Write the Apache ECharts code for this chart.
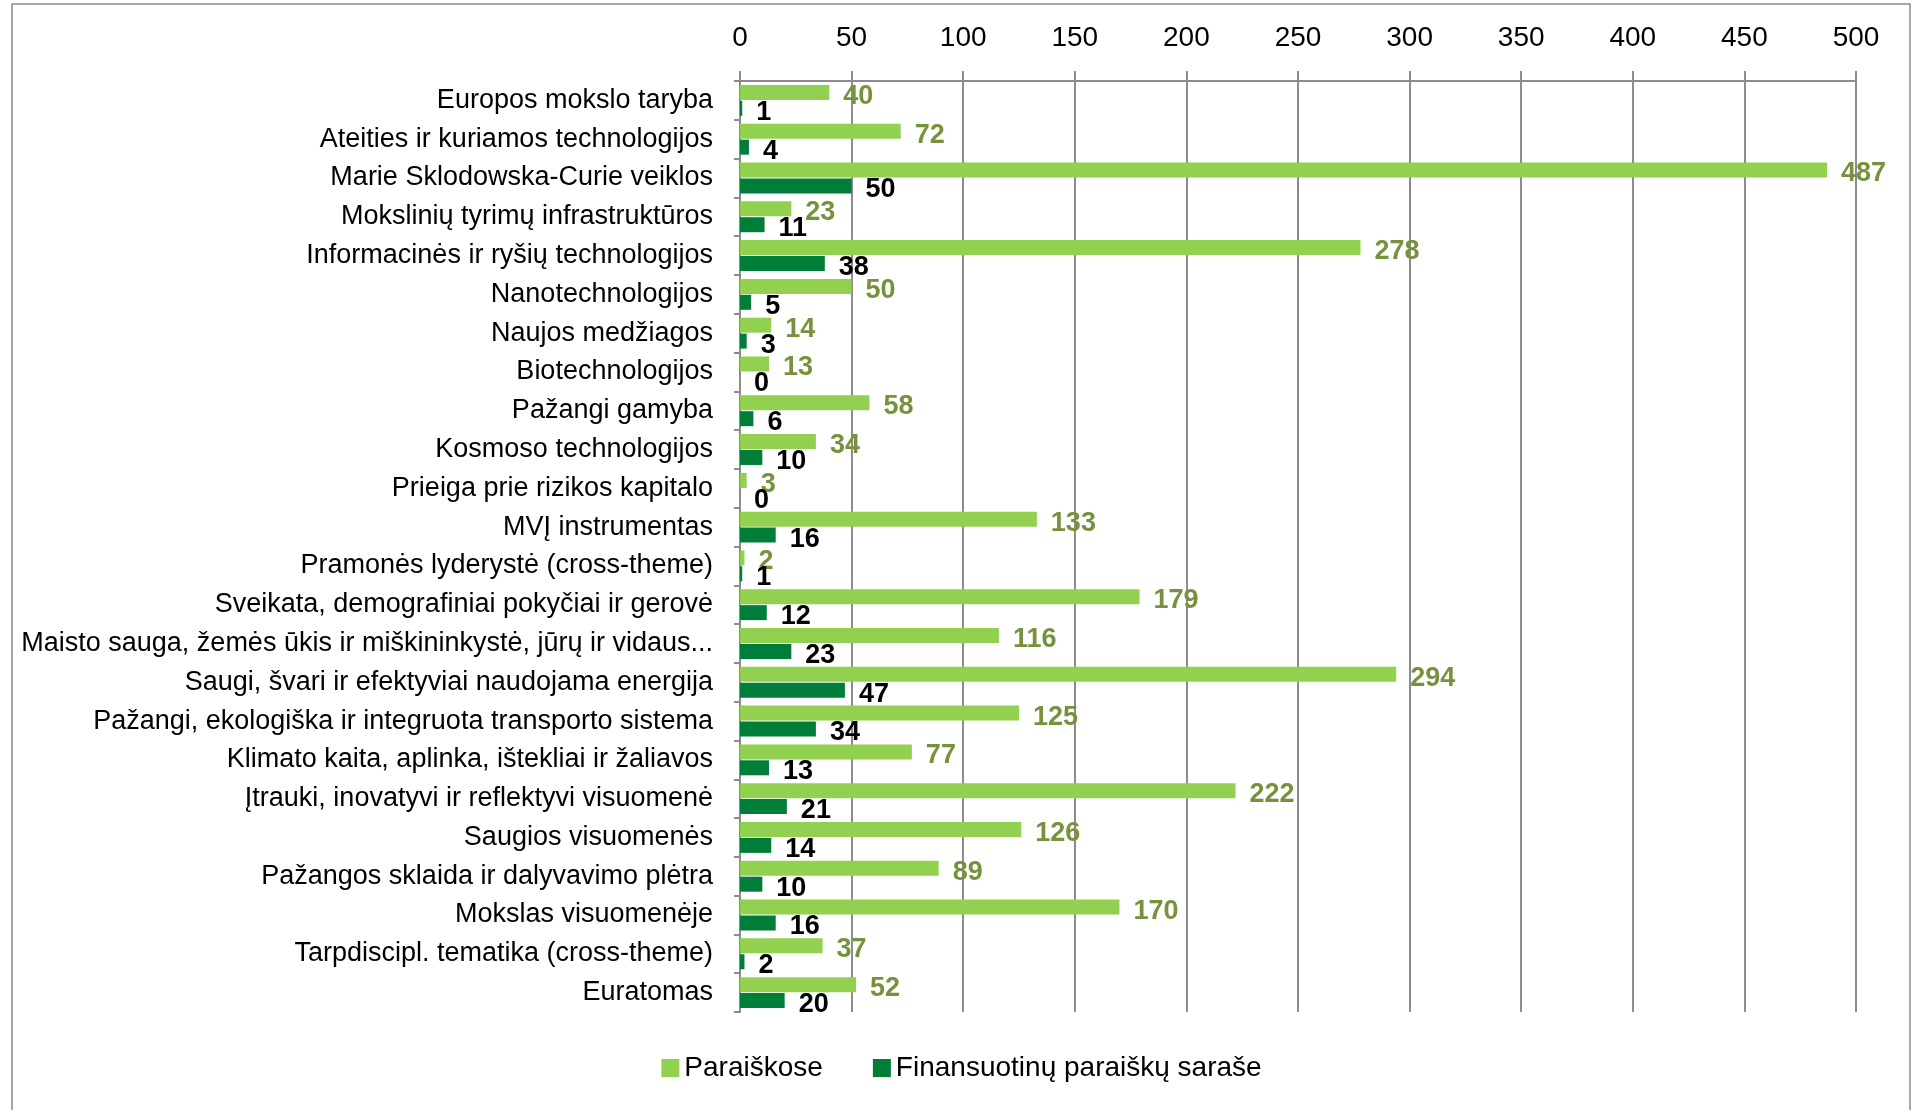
<!DOCTYPE html>
<html>
<head>
<meta charset="utf-8">
<script src="https://cdn.jsdelivr.net/npm/echarts@6/dist/echarts.min.js"></script>
<style>
  html, body { margin: 0; padding: 0; background: #fff; }
  #chart { width: 1923px; height: 1110px; }
</style>
</head>
<body>
<div id="chart"></div>
<script>
const categories = [
  'Europos mokslo taryba',
  'Ateities ir kuriamos technologijos',
  'Marie Sklodowska-Curie veiklos',
  'Mokslinių tyrimų infrastruktūros',
  'Informacinės ir ryšių technologijos',
  'Nanotechnologijos',
  'Naujos medžiagos',
  'Biotechnologijos',
  'Pažangi gamyba',
  'Kosmoso technologijos',
  'Prieiga prie rizikos kapitalo',
  'MVĮ instrumentas',
  'Pramonės lyderystė (cross-theme)',
  'Sveikata, demografiniai pokyčiai ir gerovė',
  'Maisto sauga, žemės ūkis ir miškininkystė, jūrų ir vidaus...',
  'Saugi, švari ir efektyviai naudojama energija',
  'Pažangi, ekologiška ir integruota transporto sistema',
  'Klimato kaita, aplinka, ištekliai ir žaliavos',
  'Įtrauki, inovatyvi ir reflektyvi visuomenė',
  'Saugios visuomenės',
  'Pažangos sklaida ir dalyvavimo plėtra',
  'Mokslas visuomenėje',
  'Tarpdiscipl. tematika (cross-theme)',
  'Euratomas'
]
const applied = [40, 72, 487, 23, 278, 50, 14, 13, 58, 34, 3, 133, 2, 179, 116, 294, 125, 77, 222, 126, 89, 170, 37, 52]
const funded = [1, 4, 50, 11, 38, 5, 3, 0, 6, 10, 0, 16, 1, 12, 23, 47, 34, 13, 21, 14, 10, 16, 2, 20]
const seriesNames = ['Paraiškose', 'Finansuotinų paraiškų saraše']

const lightGreen = '#92d050'
const darkGreen = '#007e39'
const labelOlive = '#76923c'
const gridGrey = '#8c8c8c'
const fontFamily = '"Liberation Sans", Arial, sans-serif'

const chart = echarts.init(document.getElementById('chart'))

chart.setOption({
  animation: false,
  textStyle: { fontFamily: fontFamily, color: '#000' },
  graphic: [{
    type: 'rect',
    shape: { x: 12, y: 4, width: 1898, height: 1130 },
    style: { fill: 'none', stroke: '#8a8a8a', lineWidth: 1.5 },
    silent: true
  }],
  grid: { left: 740, right: 67, top: 81, bottom: 98 },
  legend: {
    data: seriesNames,
    left: 'center',
    top: 1049,
    icon: 'rect',
    itemWidth: 18,
    itemHeight: 18,
    itemGap: 50,
    textStyle: { fontSize: 28, color: '#000', fontFamily: fontFamily }
  },
  xAxis: {
    type: 'value',
    position: 'top',
    min: 0,
    max: 500,
    interval: 50,
    axisLine: { show: true, lineStyle: { color: gridGrey, width: 2 } },
    axisTick: { show: true, length: 10, lineStyle: { color: gridGrey, width: 2 } },
    axisLabel: { fontSize: 28, color: '#000', margin: 29 },
    splitLine: { show: true, lineStyle: { color: gridGrey, width: 2 } }
  },
  yAxis: {
    type: 'category',
    data: categories,
    inverse: true,
    axisLine: { show: true, lineStyle: { color: gridGrey, width: 2 } },
    axisTick: { show: true, length: 6, lineStyle: { color: gridGrey, width: 2 } },
    axisLabel: { fontSize: 27, color: '#000', margin: 27 }
  },
  series: [
    {
      name: seriesNames[0],
      type: 'bar',
      data: applied,
      barWidth: 15,
      barGap: '6%',
      itemStyle: { color: lightGreen },
      label: {
        show: true,
        position: 'right',
        distance: 14,
        offset: [0, 4],
        color: labelOlive,
        fontWeight: 'bold',
        fontSize: 27
      }
    },
    {
      name: seriesNames[1],
      type: 'bar',
      data: funded,
      barWidth: 15,
      itemStyle: { color: darkGreen },
      label: {
        show: true,
        position: 'right',
        distance: 14,
        offset: [0, 4],
        color: '#000',
        fontWeight: 'bold',
        fontSize: 27
      }
    }
  ]
})
</script>
</body>
</html>
